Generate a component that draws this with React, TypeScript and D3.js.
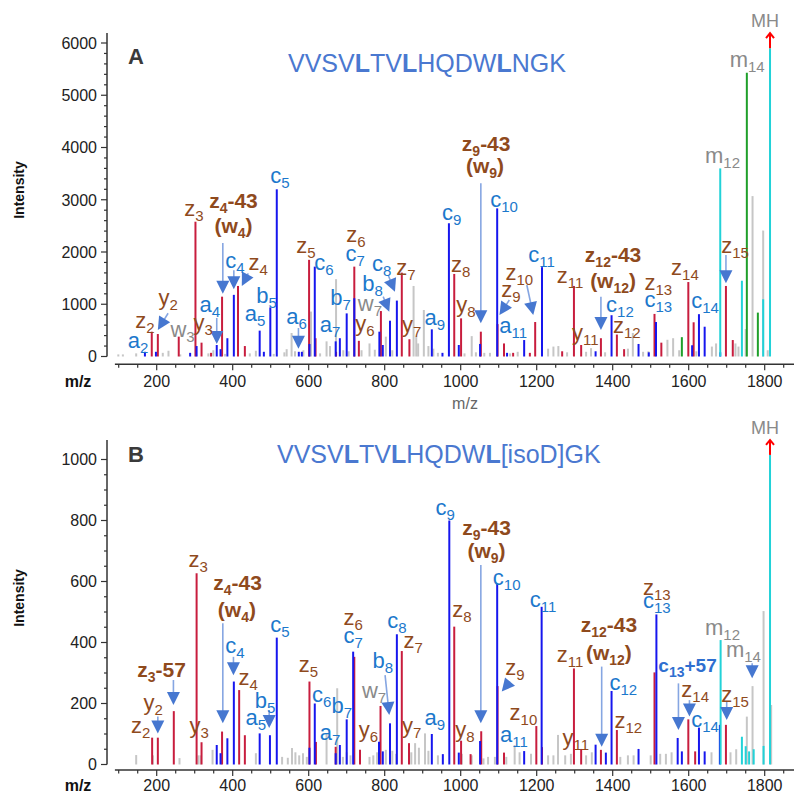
import * as d3 from "d3";
import React from "react";

// ---- data: [m/z, intensity] ----
const mzTicks = d3.range(100, 1851, 50);

const blueA = [[169, 90], [198, 90], [288, 70], [305, 200], [358, 220], [368, 140], [386, 350], [403, 1180], [471, 495], [482, 90], [499, 940], [516, 3200], [574, 90], [582, 90], [602, 240], [616, 1720], [671, 290], [682, 350], [700, 825], [720, 1115], [786, 475], [795, 220], [814, 685], [832, 1070], [924, 520], [952, 70], [969, 2550], [995, 220], [1051, 240], [1096, 2835], [1122, 70], [1167, 315], [1214, 1710], [1355, 100], [1397, 790], [1468, 240], [1495, 80], [1514, 660], [1609, 215], [1627, 810], [1642, 570], [1683, 80]];
const redA = [[187, 475], [203, 430], [258, 380], [302, 2580], [318, 265], [343, 70], [372, 1145], [414, 1350], [432, 200], [601, 1850], [618, 350], [672, 90], [720, 1720], [732, 300], [790, 870], [845, 1605], [865, 330], [983, 1580], [1001, 730], [1053, 475], [1097, 620], [1114, 250], [1138, 70], [1182, 70], [1196, 660], [1267, 100], [1298, 1350], [1317, 220], [1369, 350], [1411, 420], [1430, 140], [1510, 815], [1528, 265], [1599, 1425], [1613, 655], [1698, 1350], [1716, 315]];
const greenA = [[1582, 370], [1753, 5430], [1782, 840]];
const cyanA = [[1683, 3600], [1740, 1450], [1796, 1095], [1814, 5900]];
const grayA = [[99, 40], [111, 40], [146, 60], [216, 70], [231, 110], [262, 40], [336, 60], [349, 120], [380, 50], [445, 60], [461, 110], [508, 50], [536, 80], [542, 140], [555, 450], [564, 100], [586, 120], [606, 860], [630, 60], [647, 290], [656, 200], [672, 1480], [691, 120], [705, 100], [739, 120], [760, 250], [774, 130], [803, 380], [820, 120], [876, 1350], [883, 380], [888, 250], [903, 890], [915, 200], [928, 150], [940, 70], [1010, 60], [1029, 390], [1040, 80], [1062, 70], [1077, 70], [1130, 60], [1150, 90], [1230, 150], [1244, 190], [1257, 200], [1280, 80], [1330, 90], [1343, 160], [1380, 80], [1440, 150], [1453, 450], [1480, 90], [1494, 100], [1544, 320], [1559, 350], [1575, 120], [1620, 100], [1661, 190], [1672, 250], [1723, 250], [1731, 190], [1750, 525], [1768, 3070], [1796, 2410], [1808, 120]];

const blueB = [[358, 64], [368, 37], [386, 86], [403, 272], [471, 102], [498, 96], [516, 416], [602, 55], [616, 200], [671, 37], [682, 64], [700, 148], [717, 370], [785, 75], [795, 43], [814, 135], [832, 427], [924, 100], [953, 34], [970, 800], [995, 39], [1051, 77], [1096, 592], [1167, 44], [1213, 517], [1355, 65], [1382, 39], [1397, 241], [1468, 51], [1515, 492], [1571, 87], [1582, 43], [1627, 121], [1642, 43], [1682, 130]];
const redB = [[188, 88], [203, 88], [245, 175], [305, 627], [318, 73], [372, 108], [417, 244], [432, 96], [602, 272], [619, 74], [671, 58], [720, 353], [735, 48], [789, 192], [845, 372], [864, 70], [983, 452], [1001, 78], [1026, 34], [1054, 109], [1097, 257], [1114, 39], [1199, 126], [1214, 57], [1298, 315], [1317, 51], [1369, 48], [1411, 113], [1510, 302], [1599, 148], [1617, 43], [1698, 130]];
const greenB: number[][] = [];
const cyanB = [[1684, 408], [1740, 91], [1750, 60], [1759, 43], [1771, 50], [1797, 61], [1814, 1015]];
const grayB = [[146, 31], [190, 30], [260, 21], [310, 30], [316, 30], [347, 48], [461, 37], [530, 25], [545, 22], [556, 54], [565, 40], [575, 30], [585, 37], [595, 25], [647, 102], [675, 250], [690, 25], [700, 40], [710, 30], [760, 25], [770, 30], [780, 40], [803, 48], [820, 45], [830, 35], [870, 40], [880, 70], [890, 55], [906, 102], [915, 45], [940, 30], [1003, 35], [1029, 30], [1060, 20], [1072, 25], [1090, 25], [1120, 25], [1142, 64], [1155, 40], [1185, 35], [1230, 30], [1244, 30], [1256, 97], [1275, 30], [1290, 35], [1330, 30], [1345, 40], [1420, 25], [1440, 30], [1455, 30], [1500, 30], [1525, 35], [1540, 35], [1555, 40], [1660, 40], [1710, 40], [1725, 50], [1753, 157], [1768, 257], [1797, 503], [1817, 195]];

// labels: [kind, main, sub, suffix, m/z, intensity]
const labelsA = [
  ["c", "a", "2", "", 151, 163], ["z", "z", "2", "", 169, 545], ["z", "y", "2", "", 230, 986],
  ["w", "w", "3", "", 268, 370], ["z", "y", "3", "", 322, 507], ["z", "z", "3", "", 298, 2689],
  ["c", "a", "4", "", 340, 852], ["Z", "z", "4", "-43", 402, 2842], ["Z", "(w", "4", ")", 402, 2364],
  ["c", "c", "4", "", 406, 1694], ["z", "z", "4", "", 467, 1656], ["c", "a", "5", "", 459, 680],
  ["c", "b", "5", "", 489, 1018], ["c", "c", "5", "", 524, 3321], ["c", "a", "6", "", 568, 622],
  ["z", "z", "5", "", 593, 1981], ["c", "c", "6", "", 640, 1656], ["c", "a", "7", "", 656, 469],
  ["c", "b", "7", "", 684, 986], ["z", "z", "6", "", 724, 2197], ["c", "c", "7", "", 722, 1828],
  ["w", "w", "7", "", 761, 871], ["z", "y", "6", "", 748, 488], ["c", "c", "8", "", 792, 1636],
  ["c", "b", "8", "", 768, 1254], ["z", "z", "7", "", 856, 1560], ["z", "y", "7", "", 871, 474],
  ["c", "a", "9", "", 932, 603], ["c", "c", "9", "", 976, 2613], ["z", "z", "8", "", 1000, 1623],
  ["z", "y", "8", "", 1014, 857], ["Z", "z", "9", "-43", 1067, 3933], ["Z", "(w", "9", ")", 1064, 3506],
  ["c", "c", "10", "", 1114, 2867], ["z", "z", "9", "", 1132, 1145], ["z", "z", "10", "", 1154, 1464],
  ["c", "a", "11", "", 1138, 450], ["c", "c", "11", "", 1213, 1815], ["z", "z", "11", "", 1288, 1407],
  ["z", "y", "11", "", 1328, 316], ["Z", "z", "12", "-43", 1401, 1815], ["Z", "(w", "12", ")", 1401, 1305],
  ["c", "c", "12", "", 1419, 857], ["z", "z", "12", "", 1437, 450], ["z", "z", "13", "", 1520, 1273],
  ["c", "c", "13", "", 1520, 953], ["z", "z", "14", "", 1590, 1560], ["c", "c", "14", "", 1643, 928],
  ["w", "m", "12", "", 1689, 3704], ["z", "z", "15", "", 1722, 1981], ["w", "m", "14", "", 1754, 5547],
  ["w", "MH", "", "", 1801, 6306],
];
const arrowsA = [
  [230, 827, 203, 507], [358, 737, 358, 240], [374, 2172, 374, 1200], [403, 1650, 403, 1286],
  [441, 1592, 424, 1349], [573, 545, 573, 150], [809, 1560, 827, 1240], [796, 1145, 812, 857],
  [1053, 3315, 1053, 635], [1128, 1081, 1102, 794], [1174, 1368, 1191, 794], [1369, 1145, 1369, 507],
  [1698, 1943, 1698, 1401],
];

const labelsB = [
  ["z", "z", "2", "", 158, 103], ["z", "y", "2", "", 191, 179], ["Z", "z", "3", "-57", 213, 288],
  ["z", "y", "3", "", 312, 102], ["z", "z", "3", "", 309, 649], ["Z", "z", "4", "-43", 413, 572],
  ["Z", "(w", "4", ")", 411, 485], ["c", "c", "4", "", 406, 365], ["z", "z", "4", "", 441, 261],
  ["c", "a", "5", "", 461, 130], ["c", "b", "5", "", 485, 184], ["c", "c", "5", "", 524, 435],
  ["z", "z", "5", "", 599, 304], ["c", "c", "6", "", 634, 206], ["c", "b", "7", "", 687, 168],
  ["c", "a", "7", "", 656, 80], ["z", "z", "6", "", 717, 457], ["c", "c", "7", "", 717, 397],
  ["w", "w", "7", "", 772, 217], ["c", "b", "8", "", 795, 315], ["c", "c", "8", "", 832, 447],
  ["z", "z", "7", "", 875, 381], ["z", "y", "6", "", 757, 91], ["z", "y", "7", "", 871, 102],
  ["c", "a", "9", "", 932, 130], ["c", "c", "9", "", 959, 818], ["z", "z", "8", "", 1003, 485],
  ["z", "y", "8", "", 1011, 91], ["Z", "z", "9", "-43", 1068, 753], ["Z", "(w", "9", ")", 1068, 676],
  ["c", "c", "10", "", 1121, 589], ["z", "z", "9", "", 1143, 293], ["z", "z", "10", "", 1165, 146],
  ["c", "a", "11", "", 1140, 75], ["c", "c", "11", "", 1217, 517], ["z", "z", "11", "", 1288, 337],
  ["z", "y", "11", "", 1303, 64], ["Z", "z", "12", "-43", 1390, 435], ["Z", "(w", "12", ")", 1390, 343],
  ["c", "c", "12", "", 1428, 244], ["z", "z", "12", "", 1441, 119], ["z", "z", "13", "", 1516, 556],
  ["c", "c", "13", "", 1516, 512], ["C", "c", "13", "+57", 1597, 304], ["z", "z", "14", "", 1617, 222],
  ["c", "c", "14", "", 1643, 124], ["w", "m", "12", "", 1689, 425], ["w", "m", "14", "", 1744, 353],
  ["z", "z", "15", "", 1722, 206], ["w", "MH", "", "", 1801, 1084],
];
const arrowsB = [
  [203, 157, 203, 102], [244, 277, 244, 195], [374, 463, 374, 135], [402, 353, 402, 293],
  [496, 179, 496, 120], [801, 293, 812, 162], [1053, 654, 1053, 135], [1130, 272, 1108, 239],
  [1371, 321, 1371, 58], [1573, 266, 1573, 113], [1602, 211, 1602, 157], [1700, 206, 1700, 146],
  [1767, 332, 1767, 283],
];

const titleA = [["VVSV", 0], ["L", 1], ["TV", 0], ["L", 1], ["HQDW", 0], ["L", 1], ["NGK", 0]];
const titleB = [["VVSV", 0], ["L", 1], ["TV", 0], ["L", 1], ["HQDW", 0], ["L", 1], ["[isoD]GK", 0]];

const FONT = "'Liberation Sans', Arial, Helvetica, sans-serif";
const C = {
  blue: "#1616ee", red: "#c81d3e", gray: "#c6c6c6", cyan: "#22d2d8", green: "#1f9f2a",
  lblBrown: "#8f4a1d", lblBlue: "#1c78cc", lblGray: "#8a8a8a", arrow: "#4677d0", shaft: "#86a6e2",
  title: "#4a78d0", axis: "#333333",
};

const x = d3.scaleLinear().domain([200, 1800]).range([156.7, 764.7]);

function Arrow({ p1, p2, color, shaft }) {
  const dx = p2[0] - p1[0], dy = p2[1] - p1[1];
  const len = Math.hypot(dx, dy) || 1;
  const ux = dx / len, uy = dy / len;
  const hl = 13, hw = 6.5;
  const bx = p2[0] - ux * hl, by = p2[1] - uy * hl;
  return (
    <g>
      <line x1={p1[0]} y1={p1[1]} x2={bx + ux * 2} y2={by + uy * 2} stroke={shaft} strokeWidth={1.6} />
      <path d={`M${p2[0]},${p2[1]}L${bx - uy * hw},${by + ux * hw}L${bx + uy * hw},${by - ux * hw}Z`} fill={color} />
    </g>
  );
}

function Panel({ data, labels, arrows, yTicksMax, yMajor, yMinor, yTopVal, yRange, axisY, tickDy, letter, letterY, title, titleX, titleY, intensityY, showMz }) {
  const y = d3.scaleLinear().domain([0, yTicksMax]).range(yRange);
  const y0 = y(0);
  const yTop = y(yTopVal);
  const peak = (arr, color, key) =>
    arr.map((d, i) => (
      <line key={key + i} x1={x(d[0])} x2={x(d[0])} y1={y0} y2={y(d[1])} stroke={color} strokeWidth={2} />
    ));
  const mh = data.cyan.reduce((a, b) => (b[1] > a[1] ? b : a));
  const yt = d3.range(0, yTicksMax + 1, yMinor);
  return (
    <g fontFamily={FONT}>
      {/* peaks */}
      {peak(data.gray, C.gray, "g")}
      {peak(data.red, C.red, "r")}
      {peak(data.blue, C.blue, "b")}
      {peak(data.green, C.green, "gr")}
      {peak(data.cyan, C.cyan, "c")}
      {/* off-scale marker */}
      <line x1={x(mh[0])} x2={x(mh[0])} y1={y(mh[1])} y2={yTop + 1} stroke="#ff0000" strokeWidth={2} />
      <path d={`M${x(mh[0]) - 4},${yTop + 5}L${x(mh[0])},${yTop}L${x(mh[0]) + 4},${yTop + 5}`} fill="none" stroke="#ff0000" strokeWidth={2} />

      {/* y axis */}
      <line x1={107} x2={107} y1={y0} y2={yTop} stroke={C.axis} strokeWidth={1.5} />
      {yt.map((v) => {
        const major = v % yMajor === 0;
        return (
          <g key={"yt" + v}>
            <line x1={major ? 101 : 104} x2={107} y1={y(v)} y2={y(v)} stroke={C.axis} strokeWidth={1.2} />
            {major && (
              <text x={97} y={y(v)} dy="0.36em" textAnchor="end" fontSize={16} fill="#222">{v}</text>
            )}
          </g>
        );
      })}
      <text transform={`translate(24,${intensityY}) rotate(-90)`} textAnchor="middle" fontSize={14} fontWeight="bold" fill="#111">Intensity</text>

      {/* x axis */}
      <line x1={x(90)} x2={x(1880)} y1={axisY} y2={axisY} stroke={C.axis} strokeWidth={1.5} />
      {mzTicks.map((v) => {
        const major = v % 200 === 0;
        return (
          <g key={"xt" + v}>
            <line x1={x(v)} x2={x(v)} y1={axisY} y2={axisY + (major ? 6 : 3.5)} stroke={C.axis} strokeWidth={1.2} />
            {major && (
              <text x={x(v)} y={axisY + tickDy} textAnchor="middle" fontSize={16} fill="#222">{v}</text>
            )}
          </g>
        );
      })}
      <text x={78} y={axisY + tickDy} textAnchor="middle" fontSize={16} fontWeight="bold" fill="#111">m/z</text>
      {showMz && <text x={465} y={axisY + 45} textAnchor="middle" fontSize={16} fill="#666">m/z</text>}

      {/* panel letter and peptide */}
      <text x={128} y={letterY} fontSize={22} fontWeight="bold" fill="#3a3a3a">{letter}</text>
      <text x={titleX} y={titleY} fontSize={25} fill={C.title}>
        {title.map((s, i) => (
          <tspan key={i} fontWeight={s[1] ? "bold" : "normal"}>{s[0]}</tspan>
        ))}
      </text>

      {/* arrows */}
      {arrows.map((a, i) => (
        <Arrow key={"a" + i} p1={[x(a[0]), y(a[1])]} p2={[x(a[2]), y(a[3])]} color={C.arrow} shaft={C.shaft} />
      ))}

      {/* ion labels */}
      {labels.map((l, i) => {
        const [kind, main, sub, suf, mz, iv] = l;
        const bold = kind === "Z" || kind === "C";
        const fill = kind === "z" || kind === "Z" ? C.lblBrown : kind === "w" ? C.lblGray : kind === "C" ? "#2f6fd0" : C.lblBlue;
        const fs = bold ? (kind === "C" ? 19 : 21) : 22;
        const ss = bold ? 14 : 15;
        return (
          <text key={"l" + i} x={x(mz)} y={y(iv)} textAnchor="middle" fontSize={main === "MH" ? 18 : fs} fontWeight={bold ? "bold" : "normal"} fill={fill}>
            {main}
            {sub && <tspan fontSize={ss} dy={5}>{sub}</tspan>}
            {suf && <tspan fontSize={fs} dy={-5}>{suf}</tspan>}
          </text>
        );
      })}
    </g>
  );
}

export default function App() {
  return (
    <svg width={794} height={795} style={{ position: "absolute", left: 0, top: 0, background: "#fff" }}>
      <rect width={794} height={795} fill="#fff" />
      <Panel
        data={{ blue: blueA, red: redA, gray: grayA, green: greenA, cyan: cyanA }}
        labels={labelsA} arrows={arrowsA}
        yTicksMax={6000} yMajor={1000} yMinor={200} yTopVal={6190} yRange={[356.5, 43]}
        axisY={364.3} tickDy={23} letter="A" letterY={64} title={titleA} titleX={288} titleY={72}
        intensityY={190} showMz={true}
      />
      <Panel
        data={{ blue: blueB, red: redB, gray: grayB, green: greenB, cyan: cyanB }}
        labels={labelsB} arrows={arrowsB}
        yTicksMax={1000} yMajor={200} yMinor={50} yTopVal={1064} yRange={[764.5, 459.5]}
        axisY={770} tickDy={21} letter="B" letterY={462} title={titleB} titleX={277} titleY={463}
        intensityY={598} showMz={false}
      />
    </svg>
  );
}
